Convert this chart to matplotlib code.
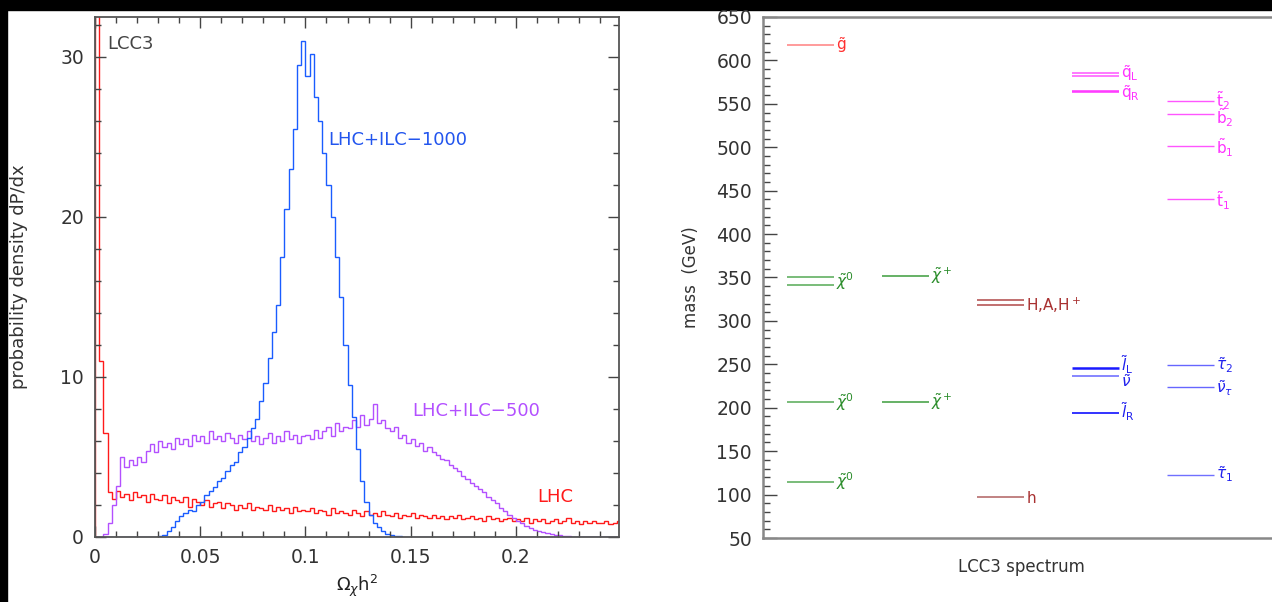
import numpy as np
import matplotlib.pyplot as plt
from matplotlib.patches import Rectangle
from matplotlib.ticker import MultipleLocator

plt.rcParams['font.family'] = ['DejaVu Sans']
plt.rcParams['mathtext.fontset'] = 'dejavusans'

# ---- left panel: probability density of Omega h^2 (bin width 0.002) ----
edges = np.linspace(0, 0.25, 126)

lhc = [45, 11, 6.5, 2.8, 2.4, 2.9, 2.5, 2.7, 2.3, 2.8,
       2.5, 2.6, 2.2, 2.7, 2.4, 2.3, 2.6, 2.1, 2.5, 2.3,
       2.2, 2.5, 1.9, 2.4, 2.2, 2.0, 2.3, 1.9, 2.1, 2.2,
       1.8, 2.1, 2.0, 1.7, 2.0, 1.8, 2.1, 1.7, 1.9, 1.8,
       1.7, 2.0, 1.6, 1.9, 1.7, 1.8, 1.5, 1.9, 1.6, 1.7,
       1.6, 1.8, 1.5, 1.7, 1.6, 1.4, 1.8, 1.5, 1.6, 1.5,
       1.4, 1.7, 1.5, 1.3, 1.6, 1.4, 1.5, 1.3, 1.6, 1.4,
       1.3, 1.5, 1.2, 1.4, 1.3, 1.5, 1.2, 1.4, 1.3, 1.2,
       1.4, 1.2, 1.3, 1.1, 1.3, 1.2, 1.4, 1.1, 1.2, 1.3,
       1.1, 1.2, 1.0, 1.3, 1.1, 1.2, 1.0, 1.1, 1.2, 1.0,
       1.1, 1.0, 1.2, 0.9, 1.1, 1.0, 1.1, 0.9, 1.0, 1.1,
       0.9, 1.0, 1.2, 0.9, 1.0, 0.8, 1.0, 0.9, 1.0, 0.9,
       0.9, 1.0, 0.8, 0.9, 1.0]

ilc500 = [0, 0, 0.2, 0.9, 2.0, 3.2, 5.0, 4.4, 4.8, 4.5,
          5.0, 4.7, 5.4, 5.8, 5.3, 6.0, 5.6, 5.9, 5.5, 6.2,
          5.8, 6.1, 5.7, 6.4, 6.0, 6.3, 5.9, 6.6, 6.1, 6.3,
          6.0, 6.5, 6.2, 5.9, 6.4, 6.1, 6.6, 6.0, 6.3, 5.8,
          6.2, 6.5, 5.9, 6.3, 6.0, 6.6, 6.1, 6.4, 5.9, 6.3,
          6.4, 6.1, 6.7, 6.2, 6.6, 6.9, 6.3, 7.1, 6.6, 6.9,
          6.8, 7.3, 6.9, 7.6, 7.0, 7.4, 8.3, 7.1, 7.3, 6.8,
          6.6, 6.9, 6.2, 6.4, 5.9, 6.1, 5.7, 5.9, 5.4, 5.6,
          5.3, 5.1, 4.9, 4.8, 4.5, 4.3, 4.1, 3.8, 3.6, 3.4,
          3.2, 3.0, 2.8, 2.5, 2.3, 2.1, 1.8, 1.6, 1.4, 1.2,
          1.0, 0.85, 0.7, 0.55, 0.45, 0.38, 0.3, 0.22, 0.17, 0.13,
          0.1, 0.07, 0.05, 0.03, 0.02, 0.01, 0, 0, 0, 0,
          0, 0, 0, 0, 0]

ilc1000 = [0, 0, 0, 0, 0, 0, 0, 0, 0, 0,
           0, 0, 0, 0, 0, 0.05, 0.15, 0.35, 0.6, 1.0,
           1.3, 1.5, 1.7, 1.6, 2.0, 2.2, 2.6, 2.9, 3.1, 3.5,
           3.7, 4.1, 4.5, 4.7, 5.3, 5.6, 6.2, 6.8, 7.4, 8.5,
           9.6, 11.2, 12.8, 14.5, 17.5, 20.5, 23.0, 25.5, 29.5, 31.0,
           28.8, 30.2, 27.5, 26.0, 24.0, 22.0, 20.0, 17.5, 15.0, 12.0,
           9.5, 7.5, 5.5, 3.5, 2.2, 1.4, 0.9, 0.6, 0.35, 0.2,
           0.12, 0.07, 0.04, 0.02, 0.01, 0, 0, 0, 0, 0,
           0, 0, 0, 0, 0, 0, 0, 0, 0, 0,
           0, 0, 0, 0, 0, 0, 0, 0, 0, 0,
           0, 0, 0, 0, 0, 0, 0, 0, 0, 0,
           0, 0, 0, 0, 0, 0, 0, 0, 0, 0,
           0, 0, 0, 0, 0]

# ---- right panel: LCC3 mass spectrum ----
# (column, mass GeV, colour, linewidth)
spec_lines = [
    (0, 618, '#ff8080', 1.1),
    (0, 351, '#55aa55', 1.1), (0, 341, '#55aa55', 1.1),
    (0, 207, '#55aa55', 1.1), (0, 115, '#55aa55', 1.1),
    (1, 352, '#3c9c3c', 1.1), (1, 207, '#3c9c3c', 1.1),
    (2, 324, '#b04848', 1.1), (2, 318, '#b04848', 1.1),
    (2, 97, '#b06060', 1.1),
    (3, 585, '#ff55ff', 1.1), (3, 582, '#ff55ff', 1.1),
    (3, 565, '#ff33ff', 1.1), (3, 563.5, '#ff33ff', 1.1),
    (4, 553, '#ff55ff', 1.0), (4, 538, '#ff55ff', 1.0),
    (4, 501, '#ff55ff', 1.0), (4, 440, '#ff55ff', 1.0),
    (3, 246, '#1a1aff', 1.8), (3, 237, '#6666ff', 1.1),
    (3, 194, '#3333ff', 1.4),
    (4, 249, '#6666ff', 1.0), (4, 224, '#6666ff', 1.0),
    (4, 122, '#7070ff', 1.0),
]

# (column, label height GeV, text, colour)
spec_labels = [
    (0, 618, r'$\tilde{\mathrm{g}}$', '#ff3030'),
    (0, 346, r'$\tilde{\chi}^0$', '#2a8c2a'),
    (0, 207, r'$\tilde{\chi}^0$', '#2a8c2a'),
    (0, 115, r'$\tilde{\chi}^0$', '#2a8c2a'),
    (1, 352, r'$\tilde{\chi}^+$', '#2a8c2a'),
    (1, 207, r'$\tilde{\chi}^+$', '#2a8c2a'),
    (2, 318, r'H,A,H$^+$', '#a83030'),
    (2, 96, 'h', '#a83030'),
    (3, 585, r'$\tilde{\mathrm{q}}_\mathrm{L}$', '#ff33ff'),
    (3, 562, r'$\tilde{\mathrm{q}}_\mathrm{R}$', '#ff33ff'),
    (4, 554, r'$\tilde{\mathrm{t}}_2$', '#ff33ff'),
    (4, 534, r'$\tilde{\mathrm{b}}_2$', '#ff33ff'),
    (4, 499, r'$\tilde{\mathrm{b}}_1$', '#ff33ff'),
    (4, 439, r'$\tilde{\mathrm{t}}_1$', '#ff33ff'),
    (3, 250, r'$\tilde{l}_\mathrm{L}$', '#2020ee'),
    (3, 230, r'$\tilde{\nu}$', '#2020ee'),
    (3, 196, r'$\tilde{l}_\mathrm{R}$', '#2020ee'),
    (4, 249, r'$\tilde{\tau}_2$', '#2020ee'),
    (4, 223, r'$\tilde{\nu}_\tau$', '#2020ee'),
    (4, 123, r'$\tilde{\tau}_1$', '#2020ee'),
]

W, H = 1272, 602
fig = plt.figure(figsize=(W / 100, H / 100), dpi=100)

# black borders present in the scan
fig.patches.append(Rectangle((0, 1 - 10 / H), 1, 10 / H, transform=fig.transFigure,
                             color='black', zorder=-5))
fig.patches.append(Rectangle((0, 0), 7 / W, 1, transform=fig.transFigure,
                             color='black', zorder=-5))

ax = fig.add_axes([95 / W, 65 / H, 524 / W, 520 / H])
ax.stairs(lhc, edges, color='#ff1a1a', lw=1.0)
ax.stairs(ilc500, edges, color='#b350ff', lw=1.0)
ax.stairs(ilc1000, edges, color='#1a5cff', lw=1.0)
ax.set_xlim(0, 0.249)
ax.set_ylim(0, 32.5)
ax.xaxis.set_major_locator(MultipleLocator(0.05))
ax.xaxis.set_minor_locator(MultipleLocator(0.01))
ax.yaxis.set_major_locator(MultipleLocator(10))
ax.yaxis.set_minor_locator(MultipleLocator(2))
ax.set_xticks([0, 0.05, 0.1, 0.15, 0.2])
ax.set_xticklabels(['0', '0.05', '0.1', '0.15', '0.2'])
ax.tick_params(which='both', direction='in', top=True, right=True,
               color='#444444', labelcolor='#333333', labelsize=13.5)
ax.tick_params(which='major', length=8, width=1, pad=8)
ax.tick_params(which='minor', length=4.5, width=1)
for s in ax.spines.values():
    s.set_color('#555555')
    s.set_linewidth(1.3)
ax.set_xlabel(r'$\Omega_\chi$h$^2$', fontsize=13, color='#222222')
ax.xaxis.set_label_coords(0.5, -0.068)
ax.set_ylabel('probability density dP/dx', fontsize=13, color='#333333')
ax.yaxis.set_label_coords(-0.127, 0.5)

ax.text(0.006, 30.8, 'LCC3', fontsize=13, color='#444444', va='center')
ax.text(0.1107, 24.8, 'LHC+ILC\u22121000', fontsize=13, color='#2255ee', va='center')
ax.text(0.1506, 7.9, 'LHC+ILC\u2212500', fontsize=13, color='#b350ff', va='center')
ax.text(0.21, 2.5, 'LHC', fontsize=13, color='#ff1a1a', va='center')

ax2 = fig.add_axes([763 / W, 64 / H, 517 / W, 521 / H])
half = 0.25
for col, m, c, lw in spec_lines:
    ax2.plot([col - half, col + half], [m, m], color=c, lw=lw, solid_capstyle='butt')
for col, m, txt, c in spec_labels:
    ax2.text(col + half + 0.02, m, txt, color=c, fontsize=11, va='center', ha='left')

ax2.set_xlim(-0.5, 4.94)
ax2.set_ylim(50, 650)
ax2.set_xticks([])
ax2.yaxis.set_major_locator(MultipleLocator(50))
ax2.yaxis.set_minor_locator(MultipleLocator(10))
ax2.tick_params(which='both', direction='in', left=True, right=False,
                color='#444444', labelcolor='#333333', labelsize=13.5)
ax2.tick_params(which='major', length=10, width=1, pad=8)
ax2.tick_params(which='minor', length=5, width=1)
for k in ['top', 'bottom', 'left']:
    ax2.spines[k].set_color('#888888')
    ax2.spines[k].set_linewidth(1.8)
ax2.spines['right'].set_visible(False)
ax2.set_ylabel('mass  (GeV)', fontsize=12, color='#333333')
ax2.yaxis.set_label_coords(-0.122, 0.5)
ax2.set_xlabel('LCC3 spectrum', fontsize=12, color='#333333')
ax2.xaxis.set_label_coords(0.5, -0.038)

fig.savefig('out.png', dpi=100)
